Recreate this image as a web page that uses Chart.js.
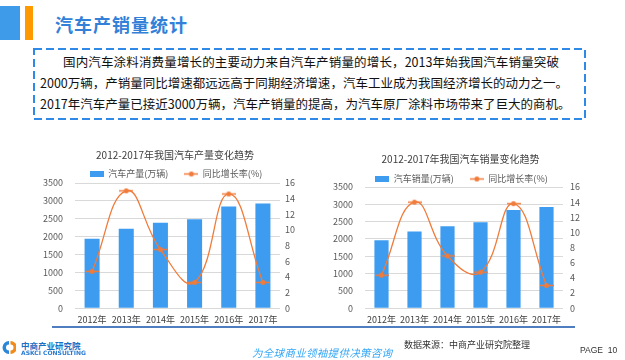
<!DOCTYPE html>
<html>
<head>
<meta charset="utf-8">
<script src="https://cdn.jsdelivr.net/npm/chart.js@4/dist/chart.umd.min.js"></script>
<style>
  html, body { margin:0; padding:0; background:#fff; }
  body { width:625px; height:360px; position:relative; overflow:hidden; font-family:'Noto Sans CJK SC', sans-serif; }
  .abs { position:absolute; }
  .para { position:absolute; font-size:12.5px; color:#111; line-height:16px; white-space:nowrap; text-align:justify; text-align-last:justify; }
</style>
</head>
<body>
<div class="abs" style="left:0;top:6px;width:20px;height:34px;background:#3d9be9"></div>
<div class="abs" style="left:25px;top:6px;width:8px;height:34px;background:#ff9900"></div>
<div class="abs" style="left:55px;top:11px;font-size:18px;font-weight:bold;color:#3380d8;letter-spacing:1px;line-height:26px">汽车产销量统计</div>

<svg class="abs" style="left:0;top:0" width="625" height="130">
  <rect x="34" y="49" width="551" height="70" fill="none" stroke="#2e8ae6" stroke-width="2" stroke-dasharray="8 4"/>
</svg>
<div class="para" style="left:63px;top:54px;width:496px">国内汽车涂料消费量增长的主要动力来自汽车产销量的增长，2013年始我国汽车销量突破</div>
<div class="para" style="left:40px;top:75px;width:528px">2000万辆，产销量同比增速都远远高于同期经济增速，汽车工业成为我国经济增长的动力之一。</div>
<div class="para" style="left:40px;top:96px;width:528px">2017年汽车产量已接近3000万辆，汽车产销量的提高，为汽车原厂涂料市场带来了巨大的商机。</div>

<canvas id="c1" class="abs" style="left:20px;top:140px" width="300" height="191"></canvas>
<canvas id="c2" class="abs" style="left:320px;top:140px" width="305" height="191"></canvas>

<div class="abs" style="left:52px;top:326px;width:523px;height:2px;background:#4f7ec0"></div>

<svg class="abs" style="left:2px;top:340px" width="14" height="15">
  <path d="M7 1 A6.5 6.5 0 0 0 7 14 L7 10.5 A3 3 0 0 1 7 4.5 Z" fill="#2a86d6"/>
  <path d="M8.5 1 A6.5 6.5 0 0 1 8.5 14 L8.5 10.5 A3 3 0 0 0 8.5 4.5 Z" fill="#f28a1c"/>
</svg>
<div class="abs" style="left:21px;top:339px;font-size:8.5px;font-weight:bold;color:#1d6fc4;line-height:12px;white-space:nowrap">中商产业研究院</div>
<div class="abs" style="left:21px;top:349px;font-size:6px;font-weight:bold;color:#2a7bd0;line-height:8px;white-space:nowrap;font-family:'DejaVu Sans',sans-serif">ASKCI CONSULTING</div>
<div class="abs" style="left:252px;top:346px;font-size:10.5px;font-style:italic;color:#38a8f5;line-height:14px;white-space:nowrap;letter-spacing:0.3px">为全球商业领袖提供决策咨询</div>
<div class="abs" style="left:404px;top:339px;font-size:9px;color:#333;line-height:12px;white-space:nowrap">数据来源：中商产业研究院整理</div>
<div class="abs" style="left:580px;top:344px;font-size:8.5px;color:#333;line-height:12px;white-space:nowrap;font-family:'Liberation Sans',sans-serif">PAGE&nbsp;&nbsp;10</div>

<script>
// ---- data ----
const years = ['2012年', '2013年', '2014年', '2015年', '2016年', '2017年'];
const production = [1940, 2220, 2390, 2490, 2845, 2930];
const productionGrowth = [4.7, 15.0, 7.5, 3.3, 14.6, 3.3];
const sales = [1960, 2215, 2365, 2480, 2835, 2920];
const salesGrowth = [4.35, 14.0, 6.9, 4.75, 13.8, 3.0];
const leftTicksMax = 3500;
const rightTicksMax = 16;

const BLUE = '#3d9cf0';
const ORANGE = '#f07b3a';
const FONT = "'Noto Sans CJK SC', sans-serif";

function markerBar() {
  const c = document.createElement('canvas'); c.width = 14; c.height = 6;
  const x = c.getContext('2d'); x.fillStyle = BLUE; x.fillRect(0, 0, 14, 6); return c;
}
function markerLine() {
  const c = document.createElement('canvas'); c.width = 14; c.height = 7;
  const x = c.getContext('2d'); x.strokeStyle = ORANGE; x.lineWidth = 1.5;
  x.beginPath(); x.moveTo(0, 3.5); x.lineTo(14, 3.5); x.stroke();
  x.fillStyle = ORANGE; x.beginPath(); x.arc(7, 3.5, 2.5, 0, Math.PI * 2); x.fill(); return c;
}

const shiftPlugin = {
  id: 'shiftBoxes',
  afterLayout(chart, args, opts) {
    if (chart.titleBlock && opts.titleDx) { chart.titleBlock.left += opts.titleDx; chart.titleBlock.right += opts.titleDx; }
    if (chart.legend) {
      if (opts.legendDx) { chart.legend.left += opts.legendDx; chart.legend.right += opts.legendDx; }
      if (opts.legendDy) { chart.legend.top += opts.legendDy; chart.legend.bottom += opts.legendDy; }
    }
  }
};

function makeChart(id, cfg) {
  const bm = markerBar(), lm = markerLine();
  const tickFont = { family: FONT, size: 9 };
  return new Chart(document.getElementById(id), {
    type: 'bar',
    data: {
      labels: years,
      datasets: [
        { type: 'bar', label: cfg.barLabel, data: cfg.bars, backgroundColor: BLUE, yAxisID: 'y',
          categoryPercentage: 1, barPercentage: cfg.barPct, order: 2, pointStyle: bm },
        { type: 'line', label: '同比增长率(%)', data: cfg.line, borderColor: ORANGE, backgroundColor: ORANGE,
          borderWidth: 1.3, pointRadius: 2.6, pointBackgroundColor: ORANGE, pointBorderWidth: 0,
          tension: 0.45, yAxisID: 'y1', order: 1, pointStyle: lm }
      ]
    },
    options: {
      responsive: false, animation: false, devicePixelRatio: 1,
      layout: { padding: { top: 0, bottom: 0, left: 0, right: 0 } },
      plugins: {
        shiftBoxes: { titleDx: cfg.titleDx, legendDx: cfg.legendDx, legendDy: cfg.legendDy },
        title: { display: true, text: cfg.title, color: '#404040', font: { family: FONT, size: 10, weight: 'normal' },
                 padding: { top: cfg.titleTop, bottom: cfg.titleBottom } },
        legend: { display: true, labels: { usePointStyle: true, pointStyleWidth: 14, boxHeight: 9,
                  color: '#595959', font: { family: FONT, size: 9 }, padding: 16,
                  sort: (a, b) => a.datasetIndex - b.datasetIndex } },
        tooltip: { enabled: false }
      },
      scales: {
        x: { grid: { display: false, drawTicks: false, tickLength: 0 }, border: { display: false },
             ticks: { color: '#404040', font: tickFont, padding: 6, maxRotation: 0, autoSkip: false } },
        y: { position: 'left', min: 0, max: leftTicksMax,
             ticks: { stepSize: 500, color: '#595959', font: tickFont, padding: 12, autoSkip: false, callback: v => String(v) },
             grid: { color: '#d9d9d9', drawTicks: false }, border: { display: false },
             afterFit(s) { s.width = cfg.leftW; } },
        y1: { position: 'right', min: 0, max: rightTicksMax,
              ticks: { stepSize: 2, color: '#595959', font: tickFont, padding: cfg.rightPad, autoSkip: false, callback: v => String(v) },
              grid: { drawOnChartArea: false, drawTicks: false }, border: { display: false },
              afterFit(s) { s.width = cfg.rightW; } }
      }
    },
    plugins: [shiftPlugin]
  });
}

makeChart('c1', { title: '2012-2017年我国汽车产量变化趋势', barLabel: '汽车产量(万辆)', bars: production, line: productionGrowth,
  barPct: 0.44, leftW: 55, rightW: 40, rightPad: 5, titleTop: 9, titleBottom: -13, titleDx: 5, legendDx: 6, legendDy: 5.5 });
makeChart('c2', { title: '2012-2017年我国汽车销量变化趋势', barLabel: '汽车销量(万辆)', bars: sales, line: salesGrowth,
  barPct: 0.43, leftW: 45, rightW: 62, rightPad: 7, titleTop: 13, titleBottom: -13, titleDx: -12, legendDx: -11, legendDy: 6.5 });
</script>
</body>
</html>
